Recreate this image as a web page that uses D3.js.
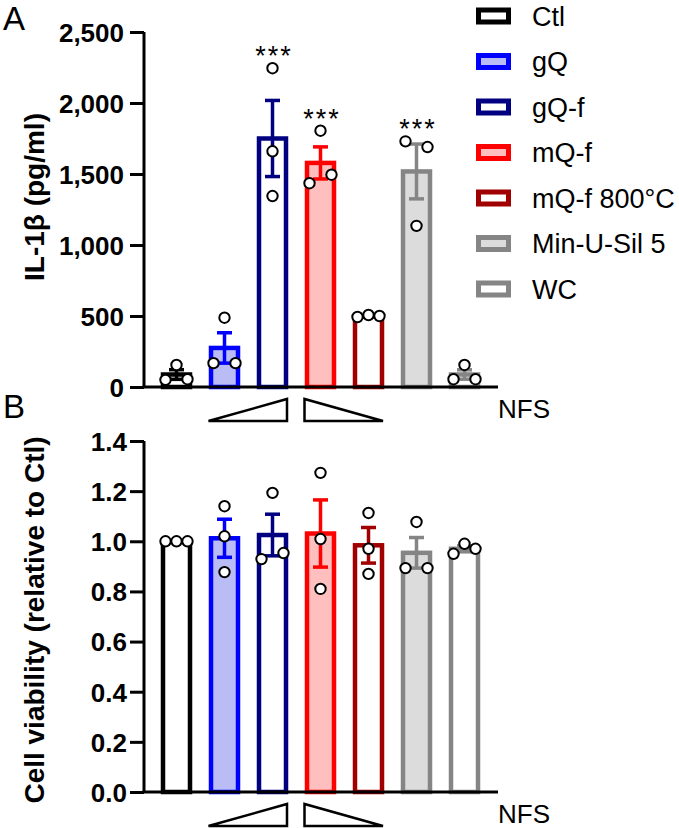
<!DOCTYPE html>
<html>
<head>
<meta charset="utf-8">
<script src="https://cdn.jsdelivr.net/npm/d3@7"></script>
<style>
  html, body { margin: 0; padding: 0; background: #fff; }
  svg { display: block; font-family: "Liberation Sans", Arial, Helvetica, sans-serif; }
</style>
</head>
<body>
<svg id="chart" width="679" height="828"></svg>
<script>
// ---------- data ----------
const categories = ["Ctl", "gQ", "gQ-f", "mQ-f", "mQ-f 800°C", "Min-U-Sil 5", "WC"];
const strokeColors = ["#000000", "#0000ff", "#000080", "#ff0000", "#a00000", "#858585", "#858585"];
const fillColors = ["#ffffff", "#babdf5", "#ffffff", "#ffbfbf", "#ffffff", "#dcdcdc", "#ffffff"];

// Panel A: IL-1β (pg/ml)
const il1bMean = [88, 275, 1750, 1578, 497, 1518, 88];
const il1bSem = [34, 107, 268, 113, 4, 193, 33];
const il1bPoints = [
  [50, 155, 55],
  [168, 168, 488],
  [2245, 1660, 1345],
  [1805, 1435, 1495],
  [493, 507, 500],
  [1730, 1690, 1135],
  [55, 55, 155]
];
const il1bSlots = [[-1, 0, 1], [-1, 1, 0], [0, 0, 0], [0, -1, 1], [-1, 0, 1], [-1, 1, 0], [-1, 1, 0]];
const il1bSignif = ["", "", "***", "***", "", "***", ""];
const il1bTicks = [0, 500, 1000, 1500, 2000, 2500];

// Panel B: cell viability (relative to Ctl)
const viabMean = [1.0, 1.012, 1.025, 1.031, 0.984, 0.954, 0.97];
const viabSem = [0, 0.076, 0.083, 0.134, 0.071, 0.061, 0.012];
const viabPoints = [
  [1.0, 1.0, 1.0],
  [1.14, 1.02, 0.877],
  [1.193, 0.929, 0.953],
  [1.273, 1.009, 0.81],
  [1.113, 0.97, 0.87],
  [1.077, 0.893, 0.893],
  [0.95, 0.99, 0.97]
];
const viabSlots = [[-1, 0, 1], [0, 0, 0], [0, -1, 1], [0, 0, 0], [0, 0, 0], [0, -1, 1], [-1, 0, 1]];
const viabTicks = [0, 0.2, 0.4, 0.6, 0.8, 1.0, 1.2, 1.4];

// ---------- layout ----------
const svg = d3.select("#chart");
const FONT = '"Liberation Sans", Arial, Helvetica, sans-serif';
const axisX = 144, axisEnd = 498;
const x = d3.scalePoint().domain(categories).range([176.5, 464.5]);
const barHalf = 13.5, barStroke = 4.5;
const slotStep = 11;

function drawPanel(opts) {
  const { y, means, sems, points, slots, ticks, fmt, title, titleCenter, letter, letterY, padding, signif } = opts;
  const g = svg.append("g");

  // bars
  g.selectAll("rect.bar").data(categories).join("rect")
    .attr("x", d => x(d) - barHalf)
    .attr("y", (d, i) => y(means[i]))
    .attr("width", barHalf * 2)
    .attr("height", (d, i) => y(0) - y(means[i]))
    .attr("fill", (d, i) => fillColors[i])
    .attr("stroke", (d, i) => strokeColors[i])
    .attr("stroke-width", barStroke);

  // error bars (mean ± SEM)
  const eb = g.selectAll("g.eb").data(categories).join("g");
  eb.append("line")
    .attr("x1", d => x(d)).attr("x2", d => x(d))
    .attr("y1", (d, i) => y(means[i] + sems[i]))
    .attr("y2", (d, i) => y(means[i] - sems[i]))
    .attr("stroke", (d, i) => strokeColors[i]).attr("stroke-width", 3.5);
  [1, -1].forEach(s => {
    eb.append("line")
      .attr("x1", d => x(d) - 7.5).attr("x2", d => x(d) + 7.5)
      .attr("y1", (d, i) => y(means[i] + s * sems[i]))
      .attr("y2", (d, i) => y(means[i] + s * sems[i]))
      .attr("stroke", (d, i) => strokeColors[i]).attr("stroke-width", 3.5);
  });

  // axes
  const yAxis = d3.axisLeft(y).tickValues(ticks).tickFormat(fmt).tickSize(14).tickPadding(padding);
  const ya = g.append("g").attr("transform", `translate(${axisX},0)`).call(yAxis);
  ya.select(".domain").attr("d", `M0,${y(ticks[ticks.length - 1])}V${y(0)}`)
    .attr("stroke", "#000").attr("stroke-width", 3).attr("fill", "none");
  ya.selectAll(".tick line").attr("stroke", "#000").attr("stroke-width", 3);
  ya.selectAll(".tick text").attr("fill", "#000")
    .style("font-family", FONT).style("font-size", "26px").style("font-weight", "bold")
    .attr("dy", "0.36em");

  g.append("line")
    .attr("x1", axisX - 1.5).attr("x2", axisEnd)
    .attr("y1", y(0)).attr("y2", y(0))
    .attr("stroke", "#000").attr("stroke-width", 3);

  // points
  categories.forEach((c, i) => {
    g.selectAll(null).data(points[i]).join("circle")
      .attr("cx", (v, j) => x(c) + slots[i][j] * slotStep)
      .attr("cy", v => y(v))
      .attr("r", 5.2)
      .attr("fill", "#fff").attr("stroke", "#000").attr("stroke-width", 2);
  });

  // significance
  if (signif) {
    categories.forEach((c, i) => {
      if (!signif[i]) return;
      const top = Math.max(d3.max(points[i]), means[i] + sems[i]);
      g.append("text")
        .attr("x", x(c) + 1.5).attr("y", y(top) - 3)
        .attr("text-anchor", "middle")
        .style("font-family", FONT).style("font-size", "27px")
        .style("letter-spacing", "2px")
        .text(signif[i]);
    });
  }

  // y title
  g.append("text")
    .attr("transform", `translate(44,${titleCenter}) rotate(-90)`)
    .attr("text-anchor", "middle")
    .style("font-family", FONT).style("font-size", "28px").style("font-weight", "bold")
    .text(title);

  // panel letter
  g.append("text").attr("x", 3).attr("y", letterY)
    .style("font-family", FONT).style("font-size", "33px")
    .text(letter);

  // dose triangles + NFS
  const triTop = y(0) + 12, triBot = y(0) + 34;
  const l1 = x(categories[1]) - 16, r1 = x(categories[2]) + 14.5;
  const l2 = x(categories[3]) - 16, r2 = x(categories[4]) + 14.5;
  g.append("path")
    .attr("d", `M${l1},${triBot}L${r1},${triBot}L${r1},${triTop}Z`)
    .attr("fill", "none").attr("stroke", "#000").attr("stroke-width", 2.5).attr("stroke-linejoin", "miter");
  g.append("path")
    .attr("d", `M${l2},${triTop}L${l2},${triBot}L${r2},${triBot}Z`)
    .attr("fill", "none").attr("stroke", "#000").attr("stroke-width", 2.5).attr("stroke-linejoin", "miter");
  g.append("text").attr("x", 498).attr("y", y(0) + 31)
    .style("font-family", FONT).style("font-size", "26px")
    .text("NFS");
}

const yA = d3.scaleLinear().domain([0, 2500]).range([387, 32]);
const yB = d3.scaleLinear().domain([0, 1.4]).range([792, 441]);

drawPanel({
  y: yA, means: il1bMean, sems: il1bSem, points: il1bPoints, slots: il1bSlots,
  ticks: il1bTicks, fmt: d3.format(","), title: "IL-1β (pg/ml)", titleCenter: 197,
  letter: "A", letterY: 30, padding: 6, signif: il1bSignif
});
drawPanel({
  y: yB, means: viabMean, sems: viabSem, points: viabPoints, slots: viabSlots,
  ticks: viabTicks, fmt: d3.format(".1f"), title: "Cell viability (relative to Ctl)", titleCenter: 620,
  letter: "B", letterY: 418, padding: 3, signif: null
});

// ---------- legend ----------
const legend = svg.append("g");
const rowY = i => 16 + i * 45.5;
legend.selectAll("rect").data(categories).join("rect")
  .attr("x", 478.5).attr("y", (d, i) => rowY(i) - 6)
  .attr("width", 30).attr("height", 12)
  .attr("fill", (d, i) => fillColors[i])
  .attr("stroke", (d, i) => strokeColors[i]).attr("stroke-width", 5);
legend.selectAll("text").data(categories).join("text")
  .attr("x", 532).attr("y", (d, i) => rowY(i) + 9.5)
  .style("font-family", FONT).style("font-size", "27px")
  .text(d => d);
</script>
</body>
</html>
